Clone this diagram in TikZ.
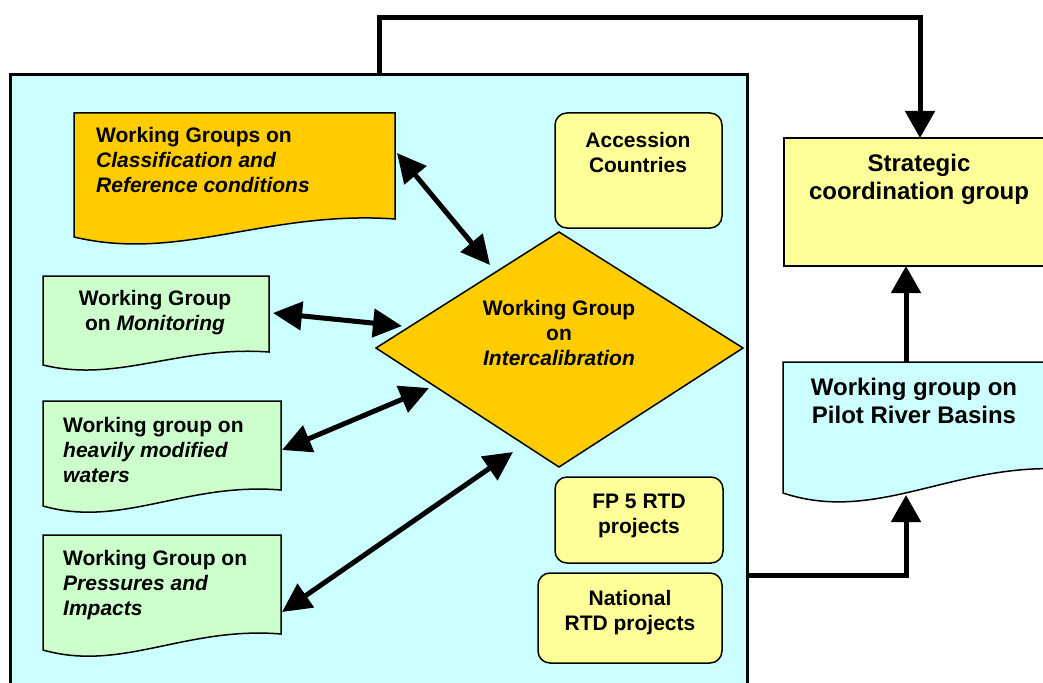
\documentclass[tikz,border=0pt]{standalone}
\usepackage{fontspec}
\setmainfont{Liberation Sans}
\usetikzlibrary{arrows.meta}
\definecolor{cyanbg}{HTML}{CCFFFF}
\definecolor{orangef}{HTML}{FFCC00}
\definecolor{yellowf}{HTML}{FFFF99}
\definecolor{greenf}{HTML}{CCFFCC}
\tikzset{
  boxline/.style={draw=black, line width=1.5pt},
  rbox/.style={boxline, fill=yellowf, rounded corners=12pt},
  conn/.style={line width=5pt, -{Triangle[length=27pt,width=29pt]}},
  dconn/.style={line width=5pt, {Triangle[length=29pt,width=28pt]}-{Triangle[length=29pt,width=28pt]}},
  lbl/.style={font=\bfseries\fontsize{21}{25}\selectfont, inner sep=0pt},
  rlbl/.style={font=\bfseries\fontsize{24}{28}\selectfont, inner sep=0pt},
}
% #1 colour, #2 left, #3 top, #4 right, #5 bottom-left y, #6 bottom-right y
\newcommand{\docshape}[6]{%
  \path[boxline, fill=#1] (#2,#3) -- (#4,#3) -- (#4,#6)
    .. controls ({#2+0.6*(#4-#2)},{#6-0.5*(#5-#6)}) and ({#2+0.33*(#4-#2)},{#5+1.4*(#5-#6)}) .. (#2,#5) -- cycle;}
\begin{document}
\begin{tikzpicture}[x=1pt,y=-1pt]
\useasboundingbox (0,0) rectangle (1043,682);
\clip (0,0) rectangle (1043,682);
\fill[white] (0,0) rectangle (1043,682);

% main container
\path[draw=black, line width=3pt, fill=cyanbg] (10,75) rectangle (747,700);

% working group boxes (document shapes)
\docshape{orangef}{74}{113}{395}{237}{219}
\docshape{greenf}{43}{276}{269}{365}{352}
\docshape{greenf}{43}{401}{281}{506}{490}
\docshape{greenf}{43}{535}{281}{650}{634}

% diamond
\path[boxline, fill=orangef] (376,348) -- (559,232) -- (743,348) -- (559,467) -- cycle;

% rounded boxes
\path[rbox] (555,113) rectangle (722,228);
\path[rbox] (555,477) rectangle (723,563);
\path[rbox] (538,573) rectangle (722,663);

% right side
\path[boxline, fill=yellowf] (784,138) rectangle (1060,266);
\docshape{cyanbg}{783}{362}{1075}{493}{470}

% labels
\node[lbl, anchor=north west, align=left] (wgcr) at (96,126.7)
  {Working Groups on\\\textit{Classification and}\\\textit{Reference conditions}};
\node[lbl, anchor=north, align=center] (wgmon) at (155,289.7)
  {Working Group\\on \textit{Monitoring}};
\node[lbl, anchor=north west, align=left] (wghmw) at (63,416.7)
  {Working group on\\\textit{heavily modified}\\\textit{waters}};
\node[lbl, anchor=north west, align=left] (wgpi) at (63,549.7)
  {Working Group on\\\textit{Pressures and}\\\textit{Impacts}};
\node[lbl, anchor=north, align=center] (wgic) at (559,299.7)
  {Working Group\\on\\\textit{Intercalibration}};
\node[lbl, anchor=north, align=center] (acc) at (638,132)
  {Accession\\Countries};
\node[lbl, anchor=north, align=center] (fp5) at (639,494)
  {FP 5 RTD\\projects};
\node[lbl, anchor=north, align=center] (nat) at (630,589.7)
  {National\\RTD projects};
\node[rlbl, anchor=north, align=center] (scg) at (919,154)
  {Strategic\\coordination group};
\node[rlbl, anchor=north, align=center] (prb) at (914,377.5)
  {Working group on\\Pilot River Basins};

% connector end points
\coordinate (mainTop) at (379,75);
\coordinate (mainRight) at (747,575);
\coordinate (scgTop) at (920,138);
\coordinate (scgBottom) at (906,266);
\coordinate (prbTop) at (906,362);
\coordinate (prbBottom) at (906,495);
\coordinate (crEnd) at (397,153);
\coordinate (icCr) at (490,265);
\coordinate (monEnd) at (273,313);
\coordinate (icMon) at (402,326);
\coordinate (hmwEnd) at (282,450);
\coordinate (icHmw) at (429,388);
\coordinate (piEnd) at (282,612);
\coordinate (icPi) at (513,452);

% connectors
\draw[conn] (mainTop) -- (379,18) -- (920,18) -- (scgTop);
\draw[conn] (prbTop) -- (scgBottom);
\draw[conn] (mainRight) -- (906,575) -- (prbBottom);
\draw[dconn] (crEnd) -- (icCr);
\draw[dconn] (monEnd) -- (icMon);
\draw[dconn] (hmwEnd) -- (icHmw);
\draw[dconn] (piEnd) -- (icPi);
\end{tikzpicture}
\end{document}
